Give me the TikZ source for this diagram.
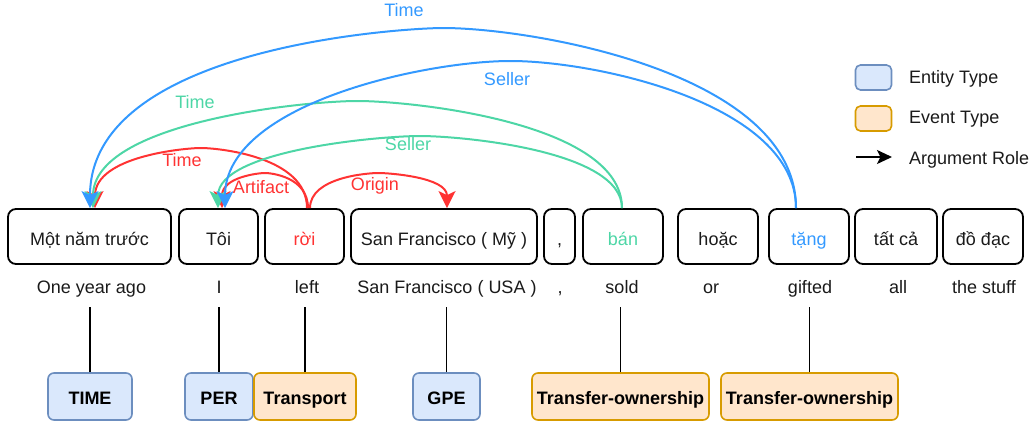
\documentclass[tikz,border=0pt]{standalone}
\usepackage{fontspec}
\setmainfont{Liberation Sans}
\usetikzlibrary{arrows.meta}
\definecolor{cblue}{RGB}{51,153,255}
\definecolor{cgreen}{RGB}{77,214,166}
\definecolor{cred}{RGB}{255,51,51}
\definecolor{entfill}{RGB}{218,232,252}
\definecolor{entdraw}{RGB}{108,142,191}
\definecolor{evfill}{RGB}{255,230,204}
\definecolor{evdraw}{RGB}{215,155,0}
\definecolor{txt}{RGB}{26,26,26}
\begin{document}
\begin{tikzpicture}[x=1pt,y=-1pt,
  font=\fontsize{18}{21}\selectfont,
  word/.style={draw=black,line width=1.8pt,rounded corners=8pt,minimum height=55pt,
    inner sep=0pt,text=txt,text height=21pt,text depth=4pt},
  trans/.style={text=txt,inner sep=0pt,anchor=base},
  typebox/.style={line width=1.6pt,rounded corners=6pt,minimum height=47pt,inner sep=0pt,
    text=black,text height=20pt,text depth=4pt,font=\fontsize{18}{21}\selectfont\bfseries},
  ent/.style={typebox,draw=entdraw,fill=entfill},
  evt/.style={typebox,draw=evdraw,fill=evfill},
  arc/.style={line width=2pt,-{Stealth[length=17pt,width=17pt,inset=4pt]}},
  lab/.style={inner sep=0pt},
  stem/.style={line width=1.8pt,draw=black}
]
\useasboundingbox (0,0) rectangle (1033,423);

% word boxes
\node[word,minimum width=163pt] (w1) at (89.5,236.5) {Một năm trước};
\node[word,minimum width=79pt] (w2) at (218.5,236.5) {Tôi};
\node[word,minimum width=79pt,text=cred] (w3) at (304.5,236.5) {rời};
\node[word,minimum width=186pt] (w4) at (444,236.5) {San Francisco ( Mỹ )};
\node[word,minimum width=31pt] (w5) at (559.5,236.5) {,};
\node[word,minimum width=80pt,text=cgreen] (w6) at (623,236.5) {bán};
\node[word,minimum width=80pt] (w7) at (718,236.5) {hoặc};
\node[word,minimum width=80pt,text=cblue] (w8) at (809,236.5) {tặng};
\node[word,minimum width=82pt] (w9) at (896,236.5) {tất cả};
\node[word,minimum width=80pt] (w10) at (983,236.5) {đồ đạc};

% translations
\node[trans] (t1) at (91.5,293) {One year ago};
\node[trans] (t2) at (219,293) {I};
\node[trans] (t3) at (307,293) {left};
\node[trans] (t4) at (447,293) {San Francisco ( USA )};
\node[trans] (t5) at (560,293) {,};
\node[trans] (t6) at (622,293) {sold};
\node[trans] (t7) at (711,293) {or};
\node[trans] (t8) at (810,293) {gifted};
\node[trans] (t9) at (898,293) {all};
\node[trans] (t10) at (984,293) {the stuff};

% type boxes
\node[ent,minimum width=84pt] (e1) at (90,396.5) {TIME};
\node[ent,minimum width=68pt] (e2) at (219,396.5) {PER};
\node[evt,minimum width=102pt] (e3) at (305,396.5) {Transport};
\node[ent,minimum width=67pt] (e4) at (446.5,396.5) {GPE};
\node[evt,minimum width=177pt] (e5) at (620.5,396.5) {Transfer-ownership};
\node[evt,minimum width=177pt] (e6) at (809.5,396.5) {Transfer-ownership};

% stems
\foreach \e in {e1,e2,e3,e4,e5,e6}
  \draw[stem] (\e.north) -- (\e.north |- 0,307);

% arc peaks
\coordinate (pBT) at (443,28);
\coordinate (pBS) at (510.5,61);
\coordinate (pGT) at (357.5,101);
\coordinate (pGS) at (420,136);
\coordinate (pRT) at (201,148);
\coordinate (pRA) at (265,173);
\coordinate (pRO) at (378.5,173);

% red arcs
\draw[arc,cred] ([xshift=2.5pt]w3.north) .. controls +(0,-52) and +(16,0) .. (pRT)
  .. controls +(-16,0) and +(0,-52) .. ([xshift=5.5pt]w1.north);
\draw[arc,cred] ([xshift=3.5pt]w3.north) .. controls +(0,-31) and +(6.5,0) .. (pRA)
  .. controls +(-6.5,0) and +(0,-31) .. ([xshift=3.5pt]w2.north);
\draw[arc,cred] ([xshift=5.5pt]w3.north) .. controls +(0,-31) and +(-10.3,0) .. (pRO)
  .. controls +(10.3,0) and +(0,-31) .. ([xshift=3pt]w4.north);
% green arcs
\draw[arc,cgreen] ([xshift=-1pt]w6.north) .. controls +(0,-86) and +(53,0) .. (pGT)
  .. controls +(-53,0) and +(0,-86) .. ([xshift=3.5pt]w1.north);
\draw[arc,cgreen] ([xshift=-1pt]w6.north) .. controls +(0,-58) and +(40,0) .. (pGS)
  .. controls +(-40,0) and +(0,-58) .. ([xshift=-0.5pt]w2.north);
% blue arcs
\draw[arc,cblue] ([xshift=-13pt]w8.north) .. controls +(0,-136) and +(88,0) .. (pBT)
  .. controls +(-35,0) and +(0,-163) .. ([xshift=0.5pt]w1.north);
\draw[arc,cblue] ([xshift=-13pt]w8.north) .. controls +(0,-104) and +(86,0) .. (pBS)
  .. controls +(-86,0) and +(0,-104) .. ([xshift=6.5pt]w2.north);

% arc labels
\node[lab,text=cblue] (lb1) at (404,10) {Time};
\node[lab,text=cblue] (lb2) at (507,79) {Seller};
\node[lab,text=cgreen] (lg1) at (195,102) {Time};
\node[lab,text=cgreen] (lg2) at (408,144) {Seller};
\node[lab,text=cred] (lr1) at (182,160) {Time};
\node[lab,text=cred] (lr2) at (261,187) {Artifact};
\node[lab,text=cred] (lr3) at (375,186) {Origin};

% legend
\node[draw=entdraw,fill=entfill,line width=1.6pt,rounded corners=5pt,minimum width=36pt,minimum height=25pt,inner sep=0pt] (k1) at (873.5,77.5) {};
\node[draw=evdraw,fill=evfill,line width=1.6pt,rounded corners=5pt,minimum width=36pt,minimum height=25pt,inner sep=0pt] (k2) at (873.5,118.5) {};
\coordinate (k3a) at (856,157);
\coordinate (k3b) at (892,157);
\draw[line width=1.8pt,-{Stealth[length=15pt,width=14pt,inset=3.5pt]}] (k3a) -- (k3b);
\node[trans,anchor=base west,text=txt] (kt1) at (909,83.5) {Entity Type};
\node[trans,anchor=base west,text=txt] (kt2) at (909,123.5) {Event Type};
\node[trans,anchor=base west,text=txt] (kt3) at (909,164) {Argument Role};
\end{tikzpicture}
\end{document}
